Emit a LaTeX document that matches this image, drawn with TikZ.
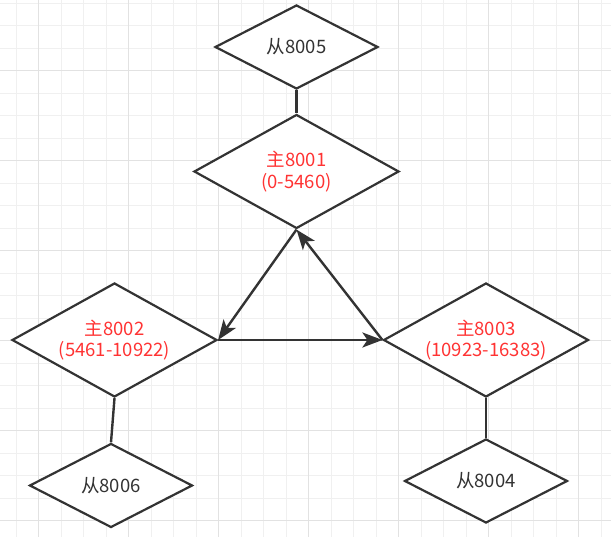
\documentclass[tikz,border=0pt]{standalone}
\usepackage{fontspec}
\setmainfont{Noto Sans CJK SC}
\usepackage{tikz}
\usetikzlibrary{shapes.geometric,arrows.meta}
\definecolor{redtext}{HTML}{FF3333}
\definecolor{edge}{HTML}{333333}
\definecolor{gridminor}{HTML}{F0F0F0}
\definecolor{gridmajor}{HTML}{E2E2E2}
\tikzstyle{master} = [diamond, aspect=1.8, inner sep=0pt, minimum width=205pt, minimum height=114pt, align=center, draw=edge, line width=2.2pt, fill=white, text=redtext, font=\fontsize{18.5}{21.5}\selectfont]
\tikzstyle{slave} = [diamond, aspect=1.95, inner sep=0pt, minimum width=163pt, minimum height=84pt, draw=edge, line width=2.2pt, fill=white, text=edge, font=\fontsize{18.5}{21.5}\selectfont]
\tikzstyle{arrow} = [line width=2.4pt, draw=edge, -{Stealth[length=20pt,width=15pt,inset=5pt]}]
\tikzstyle{link} = [line width=2.4pt, draw=edge]

\begin{document}
\begin{tikzpicture}[x=1pt,y=-1pt]
\useasboundingbox (0,0) rectangle (611,537);
\fill[white] (0,0) rectangle (611,537);
% grid
\foreach \i in {0,...,26} \draw[gridminor, line width=1pt] (16+22.5*\i,0) -- (16+22.5*\i,537);
\foreach \i in {0,...,23} \draw[gridminor, line width=1pt] (0,3.3+22.5*\i) -- (611,3.3+22.5*\i);
\foreach \i in {0,...,6} \draw[gridmajor, line width=1pt] (38.5+90*\i,0) -- (38.5+90*\i,537);
\foreach \i in {0,...,5} \draw[gridmajor, line width=1pt] (0,70.5+90*\i) -- (611,70.5+90*\i);

\node (m8001) [master] at (296.5,171.5) {主8001\\(0-5460)};
\node (m8002) [master] at (114.5,340) {主8002\\(5461-10922)};
\node (m8003) [master] at (486,340) {主8003\\(10923-16383)};
\node (s8005) [slave] at (296.5,47) {从8005};
\node (s8006) [slave] at (111,485.5) {从8006};
\node (s8004) [slave] at (486,481) {从8004};

\draw [link] (s8005.south) -- (m8001.north);
\draw [link] (m8002.south) -- (s8006.north);
\draw [link] (m8003.south) -- (s8004.north);

\draw [arrow] (m8001.south) -- (m8002.east);
\draw [arrow] (m8002.east) -- (m8003.west);
\draw [arrow] (m8003.west) -- (m8001.south);
\end{tikzpicture}
\end{document}
